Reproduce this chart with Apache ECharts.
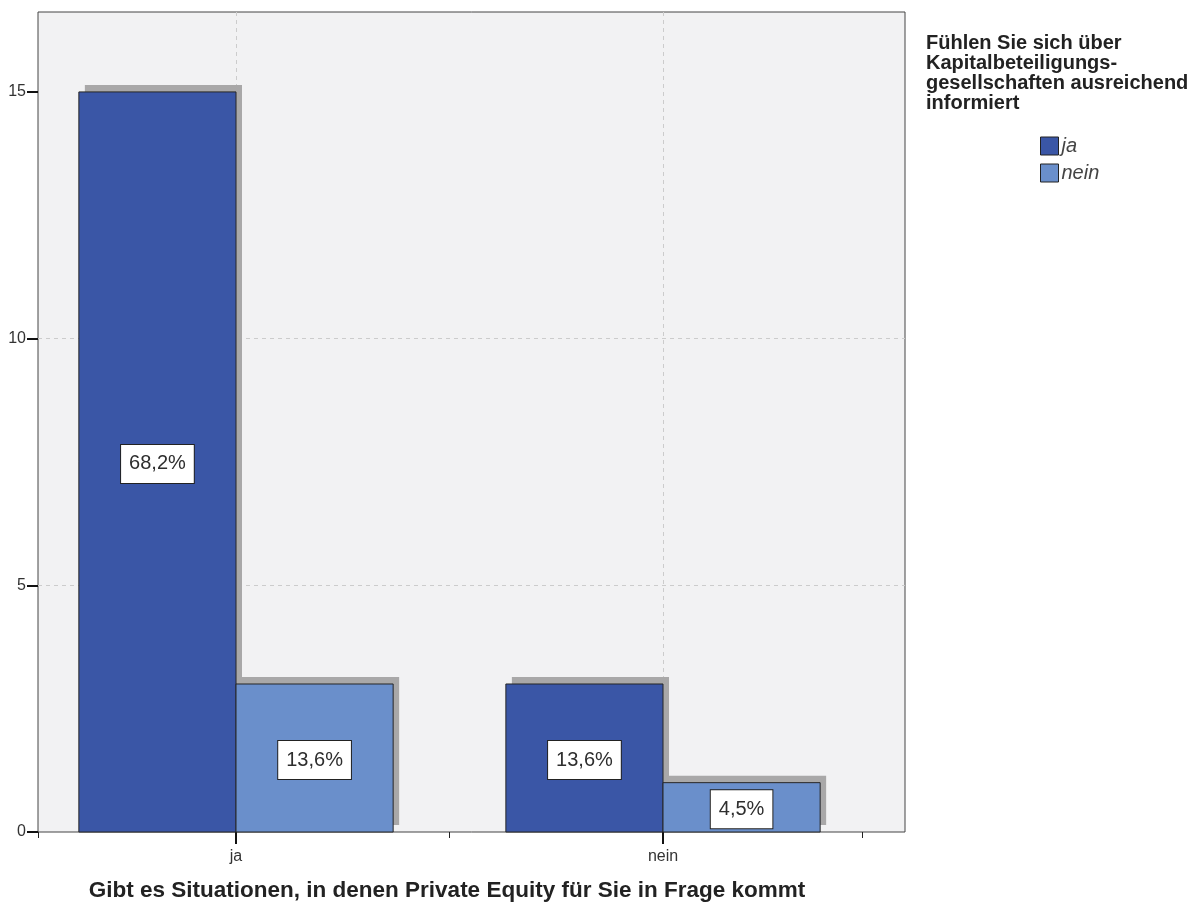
<!DOCTYPE html>
<html>
<head>
<meta charset="utf-8">
<script src="https://cdn.jsdelivr.net/npm/echarts@6/dist/echarts.min.js"></script>
<style>
  html, body { margin: 0; padding: 0; background: #ffffff; }
  #chart { width: 1203px; height: 909px; }
</style>
</head>
<body>
<div id="chart"></div>
<script>
// ---- data ----
const categories = ['ja', 'nein'];
const seriesNames = ['ja', 'nein'];
const valuesJa = [15, 3];
const valuesNein = [3, 1];
const pctJa = ['68,2%', '13,6%'];
const pctNein = ['13,6%', '4,5%'];
const yTicks = [0, 5, 10, 15];
const legendTitle = 'Fühlen Sie sich über\nKapitalbeteiligungs-\ngesellschaften ausreichend\ninformiert';
const xTitle = 'Gibt es Situationen, in denen Private Equity für Sie in Frage kommt';

// ---- layout / style ----
const FONT = '"Liberation Sans", Arial, sans-serif';
const BW = 0.368;              // bar width in category units
const X_MIN = -0.4637, X_MAX = 1.5667;
const Y_MAX = 16.62;
const colors = ['#3a56a6', '#6a8fcb'];

function barRender(pcts, side) {
  return function (params, api) {
    const i = api.value(0), v = api.value(1);
    const x0 = side < 0 ? i - BW : i;
    const p1 = api.coord([x0, v]);
    const p2 = api.coord([x0 + BW, 0]);
    const shape = { x: p1[0], y: p1[1], width: p2[0] - p1[0], height: p2[1] - p1[1] };
    return {
      type: 'group',
      children: [
        { type: 'rect', shape: shape, style: { fill: api.visual('color'), stroke: '#262626', lineWidth: 1 } },
        { type: 'text', x: (p1[0] + p2[0]) / 2, y: (p1[1] + p2[1]) / 2 + 2,
          style: { text: pcts[params.dataIndex], align: 'center', verticalAlign: 'middle',
                   fill: '#2e2e2e', font: '20px ' + FONT, backgroundColor: '#ffffff',
                   borderColor: '#222', borderWidth: 1, padding: [9, 8] } }
      ]
    };
  };
}
function shadowRender(side) {
  return function (params, api) {
    const i = api.value(0), v = api.value(1);
    const x0 = side < 0 ? i - BW : i;
    const p1 = api.coord([x0, v]);
    const p2 = api.coord([x0 + BW, 0]);
    return { type: 'rect',
      shape: { x: p1[0] + 6, y: p1[1] - 7, width: p2[0] - p1[0], height: p2[1] - p1[1] },
      style: { fill: '#a9a8a8' } };
  };
}
const dataJa = valuesJa.map((v, i) => [i, v]);
const dataNein = valuesNein.map((v, i) => [i, v]);

const chart = echarts.init(document.getElementById('chart'), null, { renderer: 'canvas' });
chart.setOption({
  animation: false,
  backgroundColor: '#ffffff',
  textStyle: { fontFamily: FONT },
  title: {
    text: legendTitle, left: 921, top: 28,
    textStyle: { fontFamily: FONT, fontSize: 20, fontWeight: 'bold', color: '#222', lineHeight: 20 }
  },
  legend: {
    data: seriesNames, orient: 'vertical', left: 1035, top: 131,
    itemWidth: 18, itemHeight: 18, itemGap: 7, icon: 'rect', selectedMode: false,
    itemStyle: { borderColor: '#222', borderWidth: 1 },
    textStyle: { fontFamily: FONT, fontSize: 20, fontStyle: 'italic', color: '#444', padding: [0, 0, 0, -2] }
  },
  grid: {
    left: 38, right: 298, top: 12, bottom: 77, show: true,
    backgroundColor: '#f2f2f3', borderColor: '#444', borderWidth: 1
  },
  xAxis: [
    { type: 'value', min: X_MIN, max: X_MAX, position: 'bottom',
      axisLine: { show: false, onZero: false }, splitLine: { show: false },
      axisTick: { show: true, length: 6, customValues: [X_MIN, 0.5, 1.466], lineStyle: { color: '#222', width: 1 } },
      axisLabel: { show: false } },
    { type: 'value', min: X_MIN, max: X_MAX, position: 'bottom',
      axisLine: { show: false, onZero: false }, splitLine: { show: false },
      axisTick: { show: true, length: 12, customValues: [0, 1], lineStyle: { color: '#111', width: 2 } },
      axisLabel: { show: true, customValues: [0, 1], margin: 17, fontSize: 16, color: '#333', fontFamily: FONT,
                   formatter: v => categories[Math.round(v)] },
      name: xTitle, nameLocation: 'middle', nameGap: 47,
      nameTextStyle: { fontFamily: FONT, fontSize: 22.5, fontWeight: 'bold', color: '#222', padding: [0, 49, 0, 0] } }
  ],
  yAxis: {
    type: 'value', min: 0, max: Y_MAX, interval: 5, position: 'left',
    axisLine: { show: false, onZero: false },
    axisTick: { show: true, inside: false, length: 11, customValues: yTicks, lineStyle: { color: '#111', width: 2 } },
    axisLabel: { customValues: yTicks, margin: 12, fontSize: 16, color: '#333', fontFamily: FONT },
    splitLine: { show: true, showMinLine: false, showMaxLine: false,
                 lineStyle: { color: '#cccccc', type: [4, 4], width: 1 } }
  },
  series: [
    { name: '_shadowJa', type: 'custom', xAxisIndex: 0, z: 2, renderItem: shadowRender(-1), data: dataJa, silent: true,
      markLine: { silent: true, symbol: 'none', z: 1, label: { show: false },
        lineStyle: { color: '#cccccc', type: [4, 4], width: 1 },
        data: categories.map((c, i) => ({ xAxis: i })) } },
    { name: '_shadowNein', type: 'custom', xAxisIndex: 0, z: 2, renderItem: shadowRender(1), data: dataNein, silent: true },
    { name: seriesNames[0], type: 'custom', xAxisIndex: 0, z: 3, renderItem: barRender(pctJa, -1),
      itemStyle: { color: colors[0] }, data: dataJa },
    { name: seriesNames[1], type: 'custom', xAxisIndex: 0, z: 3, renderItem: barRender(pctNein, 1),
      itemStyle: { color: colors[1] }, data: dataNein }
  ]
});
</script>
</body>
</html>
